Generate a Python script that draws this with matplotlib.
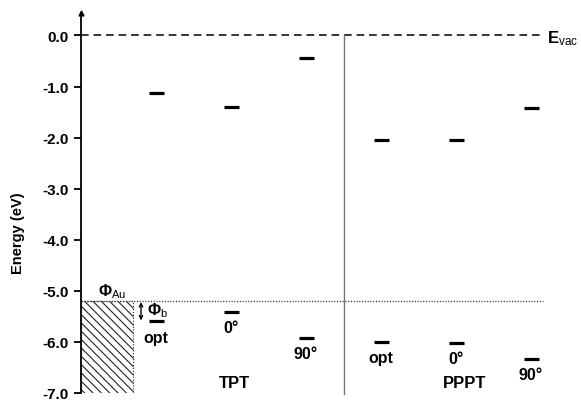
import matplotlib
matplotlib.use("Agg")
import matplotlib.pyplot as plt
from matplotlib.patches import Rectangle

plt.rcParams['font.family'] = ['Liberation Sans', 'DejaVu Sans']
plt.rcParams['mathtext.fontset'] = 'custom'
plt.rcParams['mathtext.rm'] = 'Liberation Sans'
plt.rcParams['mathtext.bf'] = 'Liberation Sans:bold'
plt.rcParams['mathtext.it'] = 'Liberation Sans:italic'
plt.rcParams['hatch.linewidth'] = 0.8

# ---- data ----
molecules = ['TPT', 'PPPT']
conformers = ['opt', '0°', '90°', 'opt', '0°', '90°']
xpos = [1, 2, 3, 4, 5, 6]
lumo = [-1.12, -1.40, -0.45, -2.05, -2.05, -1.42]
homo = [-5.60, -5.42, -5.93, -6.01, -6.03, -6.34]
phi_au = -5.2
e_vac = 0.0
yticks = [0.0, -1.0, -2.0, -3.0, -4.0, -5.0, -6.0, -7.0]
group_x = [2.05, 5.12]

W, H = 581, 402
fig = plt.figure(figsize=(W / 100, H / 100), dpi=100)
ax = fig.add_axes([81 / W, 8 / H, 1 - 81 / W, (394 - 14) / H])
ax.set_xlim(0, (W - 81) / 75)
ax.set_ylim(-7.0, 0.44)

for s in ['top', 'right', 'bottom']:
    ax.spines[s].set_visible(False)
ax.spines['left'].set_linewidth(1.3)
ax.set_xticks([])
ax.set_yticks(yticks)
ax.set_yticklabels([f'{v:.1f}' for v in yticks], fontsize=11, fontweight='bold')
ax.tick_params(axis='y', direction='out', length=5, width=1.3, pad=4)
ax.set_ylabel('Energy (eV)', fontsize=10.5, fontweight='bold')
ax.yaxis.set_label_coords(-0.112, 0.424)
ax.plot(0, 1, marker='^', ms=3.5, color='black', transform=ax.transAxes, clip_on=False)

xend = 6.16
# vacuum level & Au work function lines
ax.plot([0, xend], [e_vac, e_vac], ls=(0, (5, 3.2)), color='black', lw=1.1)
ax.plot([0, xend], [phi_au, phi_au], ls=(0, (0.8, 1.2)), color='#333333', lw=1.0)
ax.text(xend + 0.05, e_vac - 0.04, r'$\mathbf{E}_{\mathrm{vac}}$', fontsize=12,
        va='center', ha='left')

# separator
ax.plot([3.5, 3.5], [0.0, -7.02], color='#777777', lw=1.0, clip_on=False)

# Au metal block
ax.add_patch(Rectangle((0, -7.0), 0.69, 1.8, facecolor='white', edgecolor='#222222',
                       hatch='\\\\\\\\', lw=0.8, ls=':'))
ax.text(0.42, -5.0, r'$\mathbf{\Phi}_{\mathrm{Au}}$', fontsize=11.5, ha='center', va='center')

# levels
hw = 0.1
for x, l, h, c in zip(xpos, lumo, homo, conformers):
    ax.plot([x - hw, x + hw], [l, l], color='black', lw=2.3, solid_capstyle='butt')
    ax.plot([x - hw, x + hw], [h, h], color='black', lw=2.3, solid_capstyle='butt')
    if x == 1:
        continue
    ax.text(x, h - 0.3, c, fontsize=11.5, fontweight='bold', ha='center', va='center')

# opt TPT label and barrier
ax.text(xpos[0], homo[0] - 0.32, conformers[0], fontsize=11.5, fontweight='bold',
        ha='center', va='center')
ax.annotate('', xy=(0.8, homo[0] + 0.02), xytext=(0.8, phi_au - 0.02),
            arrowprops=dict(arrowstyle='<->', lw=1.0, color='black',
                            shrinkA=0, shrinkB=0, mutation_scale=6))
ax.text(0.88, -5.36, r'$\mathbf{\Phi}_{\mathrm{b}}$', fontsize=11.5, ha='left', va='center')

for gx, m in zip(group_x, molecules):
    ax.text(gx, -6.79, m, fontsize=12, fontweight='bold', ha='center', va='center')

fig.savefig('out.png', dpi=100)
